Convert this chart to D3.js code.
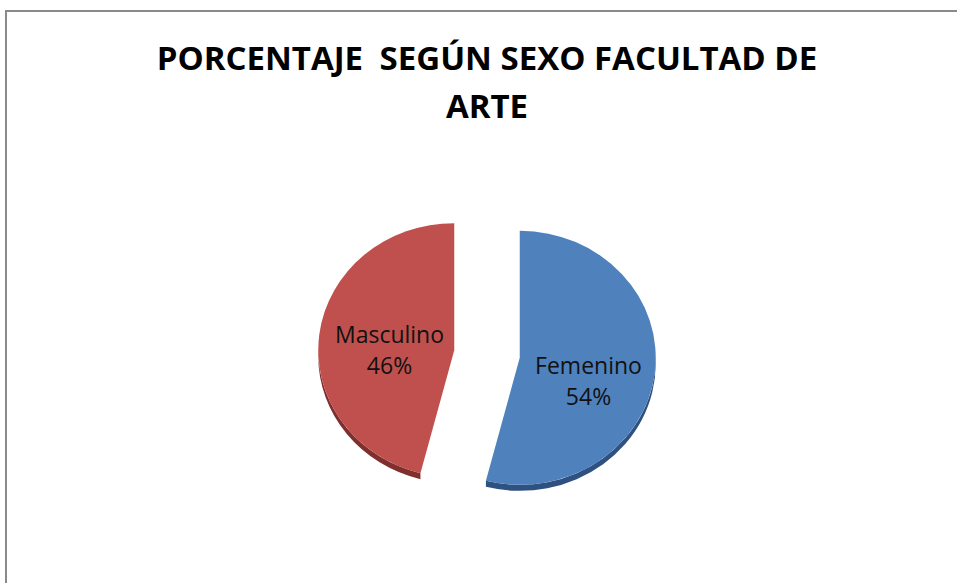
<!DOCTYPE html>
<html>
<head>
<meta charset="utf-8">
<script src="https://cdn.jsdelivr.net/npm/d3@7"></script>
<style>
  body { margin: 0; background: #fff; }
  svg { display: block; font-family: "Open Sans", sans-serif; }
</style>
</head>
<body>
<svg id="chart"></svg>
<script>
// data
const categories = ["Femenino", "Masculino"];
const values = [54, 46];
const sliceColors = ["#4F81BD", "#C0504D"];
const sideColors = ["#2F5181", "#7F302E"];
const titleLines = ["PORCENTAJE\u2002SEGÚN SEXO FACULTAD DE", "ARTE"];

const width = 957, height = 583;
const cx = 487, cy = 354;
const rx = 136, ry = 127;
const k = ry / rx;
const explode = 33;
const depth = 6;

const svg = d3.select("#chart")
  .attr("width", width)
  .attr("height", height);

// frame
svg.append("path")
  .attr("d", "M6," + height + "V11H" + width)
  .style("fill", "none")
  .style("stroke", "#8a8a8a")
  .style("stroke-width", 2);

// title
svg.append("text")
  .attr("x", cx)
  .attr("y", 70)
  .style("text-anchor", "middle")
  .style("font-size", "33px")
  .style("font-weight", "bold")
  .selectAll("tspan")
  .data(titleLines)
  .join("tspan")
  .attr("x", cx)
  .attr("dy", (d, i) => i === 0 ? 0 : 48)
  .text(d => d);

const pie = d3.pie().sort(null).value(d => d);
const arcs = pie(values);

const arc = d3.arc().innerRadius(0).outerRadius(rx);

const g = svg.append("g")
  .attr("transform", "translate(" + cx + "," + cy + ") scale(1," + k + ")");

const slices = g.selectAll("g.slice")
  .data(arcs)
  .join("g")
  .attr("class", "slice")
  .attr("transform", d => {
    const m = (d.startAngle + d.endAngle) / 2;
    return "translate(" + (Math.sin(m) * explode) + "," + (-Math.cos(m) * explode) + ")";
  });

// side (thickness) of the front part of each slice
slices.append("path")
  .attr("d", d => {
    const s = Math.max(d.startAngle, Math.PI / 2);
    const e = Math.min(d.endAngle, Math.PI * 1.5);
    if (e <= s) return null;
    const dd = depth / k;
    const p = d3.path();
    p.moveTo(Math.sin(s) * rx, -Math.cos(s) * rx);
    p.arc(0, 0, rx, s - Math.PI / 2, e - Math.PI / 2, false);
    p.lineTo(Math.sin(e) * rx, -Math.cos(e) * rx + dd);
    p.arc(0, dd, rx, e - Math.PI / 2, s - Math.PI / 2, true);
    p.closePath();
    return p.toString();
  })
  .style("fill", (d, i) => sideColors[i]);

slices.append("path")
  .attr("d", arc)
  .style("fill", (d, i) => sliceColors[i]);

// labels
const labelNudge = [[4, 15], [0, 8]];
const labelArc = d3.arc().innerRadius(rx * 0.48).outerRadius(rx * 0.48);

const labels = svg.append("g")
  .selectAll("text")
  .data(arcs)
  .join("text")
  .attr("transform", (d, i) => {
    const m = (d.startAngle + d.endAngle) / 2;
    const c = labelArc.centroid(d);
    const x = cx + Math.sin(m) * explode + c[0] + labelNudge[i][0];
    const y = cy + (-Math.cos(m) * explode + c[1]) * k + labelNudge[i][1];
    return "translate(" + x + "," + y + ")";
  })
  .style("text-anchor", "middle")
  .style("font-size", "23px")
  .style("fill", "#111");

labels.append("tspan")
  .attr("x", 0)
  .attr("dy", -7)
  .text((d, i) => categories[i]);

labels.append("tspan")
  .attr("x", 0)
  .attr("dy", 31)
  .text(d => d.value + "%");
</script>
</body>
</html>
